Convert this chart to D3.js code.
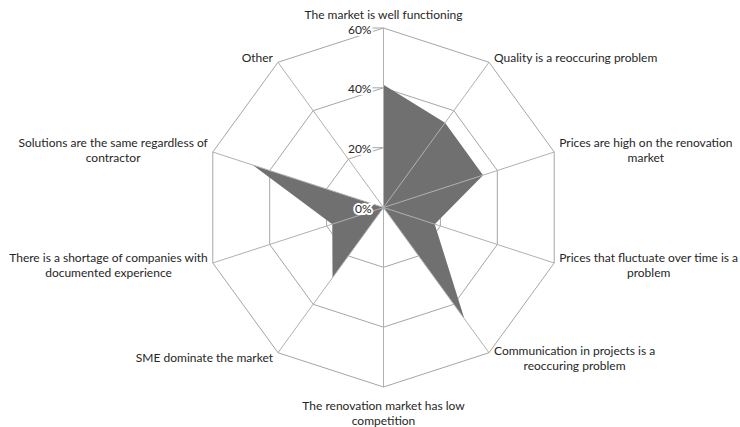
<!DOCTYPE html>
<html>
<head>
<meta charset="utf-8">
<script src="https://cdn.jsdelivr.net/npm/d3@7"></script>
<style>
  body { margin: 0; background: #fff; }
  text { font-family: Lato, "Open Sans", sans-serif; font-size: 12px; fill: #262626; }
</style>
</head>
<body>
<svg id="chart" width="740" height="427"></svg>
<script>
// categories clockwise from the top
const categories = [
  "The market is well functioning",
  "Quality is a reoccuring problem",
  "Prices are high on the renovation\nmarket",
  "Prices that fluctuate over time is a\nproblem",
  "Communication in projects is a\nreoccuring problem",
  "The renovation market has low\ncompetition",
  "SME dominate the market",
  "There is a shortage of companies with\ndocumented experience",
  "Solutions are the same regardless of\ncontractor",
  "Other"
];
const values = [41, 35, 35, 18, 46, 0, 29, 18, 46, 0];
const tickValues = [0, 20, 40, 60];
const tickLabels = ["0%", "20%", "40%", "60%"];

const cx = 383.5, cy = 207.5;
const svg = d3.select("#chart");
const g = svg.append("g").attr("transform", `translate(${cx},${cy})`);

const r = d3.scaleLinear().domain([0, 60]).range([0, 179.5]);
const angle = d3.scaleLinear().domain([0, categories.length]).range([0, 2 * Math.PI]);

const pt = (i, v) => [r(v) * Math.sin(angle(i)), -r(v) * Math.cos(angle(i))];

// rings
tickValues.slice(1).forEach(t => {
  g.append("path")
    .attr("d", d3.line()(categories.map((c, i) => pt(i, t))) + "Z")
    .attr("fill", "none")
    .attr("stroke", "#a6a6a6")
    .attr("stroke-width", 1);
});

// data area
g.append("path")
  .attr("d", d3.line()(values.map((v, i) => pt(i, v))) + "Z")
  .attr("fill", "#707070");

// spokes
categories.forEach((c, i) => {
  const [x, y] = pt(i, 60);
  g.append("line")
    .attr("x1", 0).attr("y1", 0).attr("x2", x).attr("y2", y)
    .attr("stroke", "#b0b0b0")
    .attr("stroke-width", 1);
});

// tick labels on the top axis
tickValues.forEach((t, k) => {
  g.append("text")
    .attr("x", -12)
    .attr("y", -r(t) + 1)
    .attr("text-anchor", "end")
    .attr("dominant-baseline", "central")
    .style("paint-order", "stroke")
    .style("stroke", "#fff")
    .style("stroke-width", 4)
    .text(tickLabels[k]);
  if (t > 0) {
    g.append("line")
      .attr("x1", -11).attr("x2", 0)
      .attr("y1", -r(t)).attr("y2", -r(t))
      .attr("stroke", "#a6a6a6");
  }
});

// category labels
const lineH = 15;
categories.forEach((c, i) => {
  const a = angle(i);
  const [px, py] = pt(i, 60);
  const lines = c.split("\n");
  const lab = g.append("g");
  const texts = lines.map(l => lab.append("text")
    .attr("text-anchor", "middle")
    .attr("dominant-baseline", "central")
    .text(l));
  const w = d3.max(texts, t => t.node().getComputedTextLength());
  const s = Math.sin(a), co = Math.cos(a);
  let x, yc;
  if (Math.abs(s) < 1e-6) {
    x = px;
    yc = co > 0 ? py - 14 - (lines.length - 1) * lineH / 2
                : py + 18 + (lines.length - 1) * lineH / 2;
  } else {
    x = px + Math.sign(s) * (5 + w / 2);
    yc = py - 6 * co;
  }
  texts.forEach((t, k) => t
    .attr("x", x)
    .attr("y", yc + (k - (lines.length - 1) / 2) * lineH));
});
</script>
</body>
</html>
